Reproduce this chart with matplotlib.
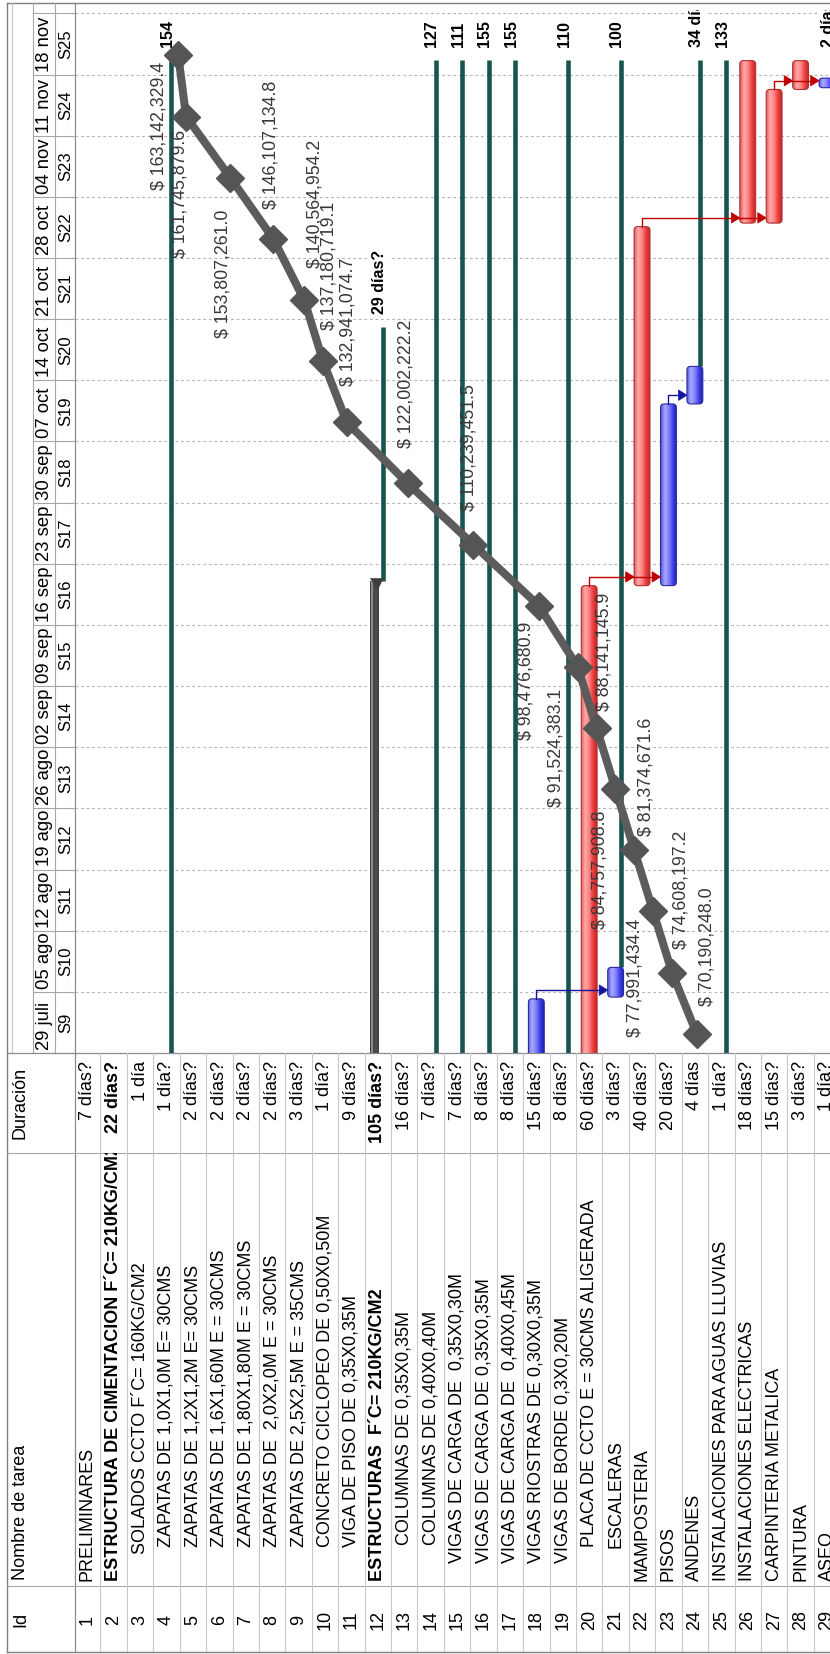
"""
Diagramme de Gantt (MS Project) tourné de 90°, avec courbe en S des coûts cumulés.
Toute la mise en page est exprimée en pixels de l'image (830 x 1654).
"""
import numpy as np
import matplotlib
matplotlib.use("Agg")
import matplotlib.pyplot as plt
from matplotlib.patches import FancyBboxPatch, Polygon, Rectangle
from matplotlib.colors import LinearSegmentedColormap

plt.rcParams['font.family'] = ['Liberation Sans', 'DejaVu Sans']

# ---------------- données ----------------
task_names = [
    "PRELIMINARES",
    "ESTRUCTURA DE CIMENTACION F´C= 210KG/CM2",
    "SOLADOS CCTO F´C= 160KG/CM2",
    "ZAPATAS DE 1,0X1,0M E= 30CMS",
    "ZAPATAS DE 1,2X1,2M E= 30CMS",
    "ZAPATAS DE 1,6X1,60M E = 30CMS",
    "ZAPATAS DE 1,80X1,80M E = 30CMS",
    "ZAPATAS DE  2,0X2,0M E = 30CMS",
    "ZAPATAS DE 2,5X2,5M E = 35CMS",
    "CONCRETO CICLOPEO DE 0,50X0,50M",
    "VIGA DE PISO DE 0,35X0,35M",
    "ESTRUCTURAS  F´C= 210KG/CM2",
    "COLUMNAS DE 0,35X0,35M",
    "COLUMNAS DE 0,40X0,40M",
    "VIGAS DE CARGA DE  0,35X0,30M",
    "VIGAS DE CARGA DE 0,35X0,35M",
    "VIGAS DE CARGA DE  0,40X0,45M",
    "VIGAS RIOSTRAS DE 0,30X0,35M",
    "VIGAS DE BORDE 0,3X0,20M",
    "PLACA DE CCTO E = 30CMS ALIGERADA",
    "ESCALERAS",
    "MAMPOSTERIA",
    "PISOS",
    "ANDENES",
    "INSTALACIONES PARA AGUAS LLUVIAS",
    "INSTALACIONES ELECTRICAS",
    "CARPINTERIA METALICA",
    "PINTURA",
    "ASEO",
]
task_durations = [
    "7 días?", "22 días?", "1 día", "1 día?", "2 días?", "2 días?", "2 días?",
    "2 días?", "3 días?", "1 día?", "9 días?", "105 días?", "16 días?", "7 días?",
    "7 días?", "8 días?", "8 días?", "15 días?", "8 días?", "60 días?", "3 días?",
    "40 días?", "20 días?", "4 días", "1 día?", "18 días?", "15 días?", "3 días?",
    "1 día?",
]
summary_ids = [2, 12]

week_labels = ["S%d" % w for w in range(9, 26)]
week_dates = ["29 juli", "05 ago", "12 ago", "19 ago", "26 ago", "02 sep", "09 sep",
              "16 sep", "23 sep", "30 sep", "07 oct", "14 oct", "21 oct", "28 oct",
              "04 nov", "11 nov", "18 nov"]

# barres de tâches (jours depuis le 29 juli)
bar_rows = [18, 20, 21, 22, 23, 24, 26, 27, 28, 29]
bar_start = [-10, -10, 6.4, 53.5, 53.5, 74.3, 95.0, 95.0, 110.3, 110.5]
bar_end = [6.2, 53.5, 9.8, 94.6, 74.3, 78.6, 113.6, 110.3, 113.6, 111.6]
bar_critical = [False, True, False, True, False, False, True, True, True, False]

# barre récapitulative
summary_rows = [12]
summary_start = [-10]
summary_end = [54.0]

# lignes de marge (vert foncé)
slack_rows = [4, 12, 14, 15, 16, 17, 19, 21, 24, 25, 29]
slack_start = [-10, 54.0, -10, -10, -10, -10, -10, 9.8, 78.6, -10, 111.6]
slack_end = [113.7, 83.1, 113.7, 113.7, 113.7, 113.7, 113.7, 113.7, 113.7, 113.7, 113.7]
slack_labels = ["154", "29 días?", "127", "111", "155", "155", "110", "100",
                "34 días", "133", "2 días?"]

# liens fin-début : (tâche source, fin source, tâches cibles, critique)
links = [
    (18, 6.2, [21], False),
    (20, 53.5, [22, 23], True),
    (23, 74.3, [24], False),
    (22, 94.6, [26, 27], True),
    (27, 110.3, [28, 29], True),
]

# courbe en S (coût cumulé par semaine)
curve_weeks = list(range(9, 26))
curve_cost = [70190248.0, 74608197.2, 77991434.4, 81374671.6, 84757908.8,
              88141145.9, 91524383.1, 98476680.9, 110239451.5, 122002222.2,
              132941074.7, 137180719.1, 140564954.2, 146107134.8, 153807261.0,
              161745879.6, 163142329.4]
# décalage des étiquettes (px image : dx droite, dy bas)
label_offsets = [(10, -87), (9, -83), (-18, 66), (12, -73), (-15, 81), (7, -76),
                 (-22, 81), (-13, 75), (-4, -97), (-2, -100), (1, -100), (6, -95),
                 (11, -96), (-2, -94), (-7, 96), (-6, 77), (-19, 71)]
name_indent = [0, 0, 27, 34, 34, 34, 34, 34, 34, 34, 34, 0, 36, 36, 18, 18, 18, 18,
               18, 34, 33, 0, 0, 0, 0, 0, 0, 0, 0]

# ---------------- géométrie ----------------
W, H = 830, 1654
PX_ROW = 26.42
ROW0 = 74
PX_DAY = 61.15 / 7
Y_T0 = 1053
Y_TOP = 10
T_TOP = (Y_T0 - Y_TOP) / PX_DAY
R_LEFT = 0.5 + (75 - ROW0) / PX_ROW
R_RIGHT = 0.5 + (W - ROW0) / PX_ROW
ASPECT = PX_ROW / PX_DAY
COST_LEFT, COST_RIGHT = 181.66e6, 46.29e6
FS = 13

TEAL = '#185450'
LINE = '#a6a6a6'


def fig_rect(x0, y0, x1, y1):
    return [x0 / W, 1 - y1 / H, (x1 - x0) / W, (y1 - y0) / H]


def overlay(rect):
    a = fig.add_axes(rect)
    a.axis('off')
    a.patch.set_visible(False)
    return a


fig = plt.figure(figsize=(W / 100, H / 100), dpi=100)
fig.patch.set_facecolor('white')

base = fig.add_axes([0, 0, 1, 1])
base.set_xlim(0, W)
base.set_ylim(H, 0)
base.axis('off')

# cadre et séparations
base.plot([7, W], [3, 3], color='#7f7f7f', lw=1)
base.plot([7, 7], [3, 1652], color='#7f7f7f', lw=1)
base.plot([7, W], [1652, 1652], color='#7f7f7f', lw=1)
base.plot([12, 12], [3, Y_T0], color='#c4c4c4', lw=0.8)
base.plot([33, 33], [3, Y_T0], color=LINE, lw=0.8)
base.plot([55, 55], [3, Y_T0], color=LINE, lw=0.8)
base.plot([74.5, 74.5], [3, 1652], color='#8c8c8c', lw=0.9)
base.plot([7, W], [Y_T0, Y_T0], color='#8c8c8c', lw=0.9)
for yy in (1153, 1586):
    base.plot([7, W], [yy, yy], color=LINE, lw=0.8)

base.text(20.5, 1619, "Id", rotation=90, ha='center', va='center', fontsize=FS)
base.text(20.5, 1580, "Nombre de tarea", rotation=90, ha='center', va='bottom', fontsize=FS)
base.text(20.5, 1103, "Duración", rotation=90, ha='center', va='center', fontsize=FS)


# ---------------- tableau ----------------
def col_axes(y0, y1):
    a = overlay(fig_rect(75, y0, W, y1))
    a.set_xlim(R_LEFT, R_RIGHT)
    a.set_ylim(y1, y0)
    for k in range(1, 30):
        a.axvline(k + 0.5, color='#c8c8c8', lw=0.8)
    return a


ax_dur = col_axes(Y_T0, 1153)
ax_nom = col_axes(1153, 1586)
ax_id = col_axes(1586, 1652)

for i, (nom, dur) in enumerate(zip(task_names, task_durations)):
    r = i + 1
    w = 'bold' if r in summary_ids else 'normal'
    ax_id.text(r, 1620, str(r), rotation=90, ha='center', va='center', fontsize=FS, clip_on=True)
    ax_nom.text(r, 1581 - name_indent[i], nom, rotation=90, ha='center', va='bottom',
                fontsize=FS, fontweight=w, clip_on=True)
    ax_dur.text(r, 1061, dur, rotation=90, ha='center', va='top', fontsize=FS,
                fontweight=w, clip_on=True)

# ---------------- échelle de temps ----------------
axh = overlay(fig_rect(33, Y_TOP, 75, Y_T0))
axh.set_xlim(33, 75)
axh.set_ylim(0, T_TOP)
for k in range(len(week_labels) + 1):
    axh.plot([33, 55], [7 * k, 7 * k], color=LINE, lw=0.8)
    axh.plot([55, 75], [7 * k, 7 * k], color=LINE, lw=0.8)
for k, (d, s) in enumerate(zip(week_dates, week_labels)):
    axh.text(44, 7 * k + 0.35, d, rotation=90, ha='center', va='bottom', fontsize=13.3, clip_on=True)
    axh.text(66, 7 * k + 3.5, s, rotation=90, ha='center', va='center', fontsize=12)

# ---------------- Gantt ----------------
axg = overlay(fig_rect(75, Y_TOP, W, Y_T0))
for k in range(1, len(week_labels) + 1):
    axg.axhline(7 * k, color='#b4b4b4', lw=0.8, ls=(0, (2.5, 2.5)), zorder=1)

for r, s, e, lab in zip(slack_rows, slack_start, slack_end, slack_labels):
    axg.plot([r + 0.19, r + 0.19], [s, e], color=TEAL, lw=3.3, solid_capstyle='butt', zorder=2)
    axg.text(r + 0.05, e + 1.5, lab, rotation=90, ha='center', va='bottom', fontsize=11.5,
             fontweight='bold', clip_on=True, zorder=2,
             bbox=dict(boxstyle='square,pad=0.15', fc='white', ec='none'))

for r, s, e in zip(summary_rows, summary_start, summary_end):
    axg.add_patch(Rectangle((r - 0.30, s), 0.30, e - s, fc='#4a4a4a', ec='#2e2e2e', lw=0.6, zorder=3))
    axg.add_patch(Rectangle((r - 0.27, s), 0.09, e - s, fc='#8a8a8a', ec='none', zorder=3))
    axg.add_patch(Polygon([(r - 0.30, e + 0.35), (r + 0.22, e + 0.35), (r, e - 1.0)],
                          closed=True, fc='#3c3c3c', ec='none', zorder=3))

red_cmap = LinearSegmentedColormap.from_list('rouge', ['#e05656', '#ffaaaa', '#ff8585', '#ea4040', '#c82626'])
blue_cmap = LinearSegmentedColormap.from_list('bleu', ['#5c5ce0', '#aaaaff', '#8080fa', '#4040e4', '#1e1eb4'])
grad = np.linspace(0, 1, 64).reshape(1, -1)

for r, s, e, crit in zip(bar_rows, bar_start, bar_end, bar_critical):
    box = FancyBboxPatch((r - 0.3, s), 0.6, e - s, boxstyle="round,pad=0,rounding_size=0.14",
                         mutation_aspect=ASPECT, fc='none',
                         ec='#b03030' if crit else '#2a2aa0', lw=0.8, zorder=4)
    axg.add_patch(box)
    im = axg.imshow(grad, cmap=red_cmap if crit else blue_cmap, extent=(r - 0.3, r + 0.3, s, e),
                    aspect='auto', origin='lower', zorder=3, interpolation='bilinear')
    im.set_clip_path(box)

for src, t_end, targets, crit in links:
    col = '#c00000' if crit else '#1414a0'
    t_link = t_end + 1.0
    axg.plot([src, src, max(targets) - 0.6], [t_end, t_link, t_link], color=col, lw=1, zorder=5)
    for tg in targets:
        axg.add_patch(Polygon([(tg - 0.3, t_link), (tg - 0.62, t_link + 0.6), (tg - 0.62, t_link - 0.6)],
                              closed=True, fc=col, ec=col, lw=0.5, zorder=6))

axg.set_xlim(R_LEFT, R_RIGHT)
axg.set_ylim(0, T_TOP)
axg.set_aspect('auto')

# ---------------- courbe en S ----------------
axs = overlay(fig_rect(75, Y_TOP, W, Y_T0))
curve_t = [(w - 9) * 7 + 2.2 for w in curve_weeks]
axs.plot(curve_cost, curve_t, color='#5c5c5c', lw=5.8, marker='D', ms=14,
         mfc='#555555', mec='#555555', solid_capstyle='round', zorder=5)
for c, tt, (dx, dy) in zip(curve_cost, curve_t, label_offsets):
    axs.annotate(f"$ {c:,.1f}", (c, tt), xytext=(dx, -dy), textcoords='offset pixels',
                 rotation=90, ha='center', va='center', fontsize=12.8, color='#383838', zorder=6)
axs.set_xlim(COST_LEFT, COST_RIGHT)
axs.set_ylim(0, T_TOP)

fig.savefig("out.png", dpi=100)
